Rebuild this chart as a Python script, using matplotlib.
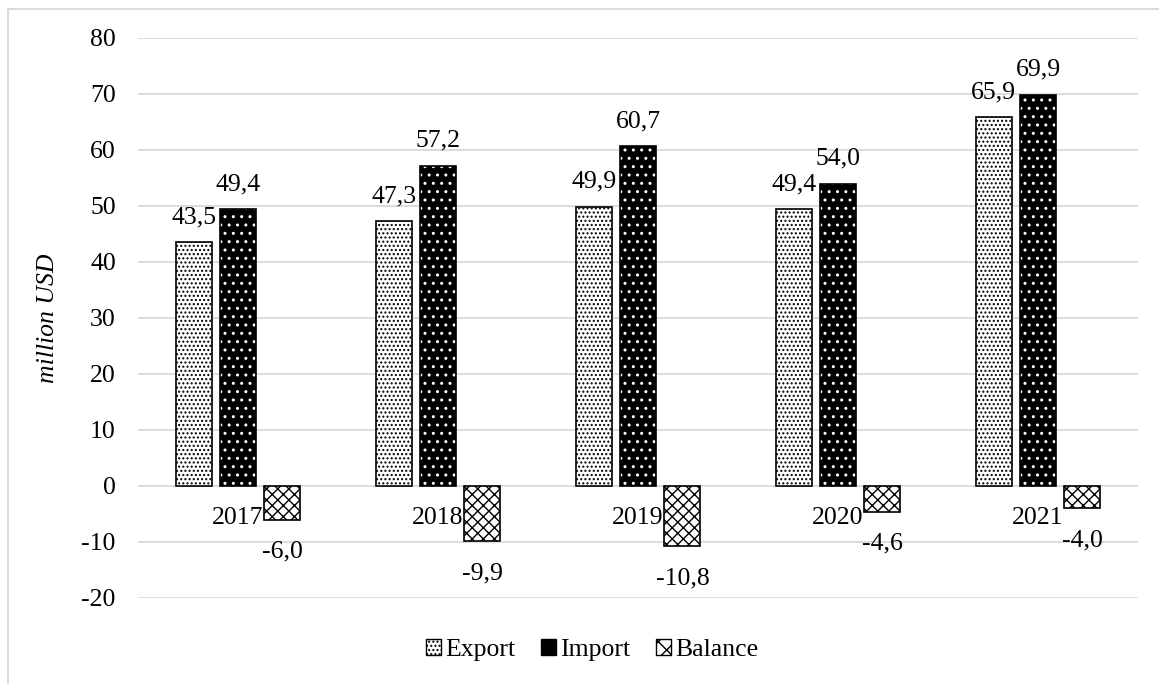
import matplotlib
matplotlib.use("Agg")
import matplotlib.pyplot as plt
from matplotlib.patches import Rectangle, Patch
import numpy as np

years = ["2017", "2018", "2019", "2020", "2021"]
export = [43.5, 47.3, 49.9, 49.4, 65.9]
imports = [49.4, 57.2, 60.7, 54.0, 69.9]
balance = [-6.0, -9.9, -10.8, -4.6, -4.0]
yticks = [-20, -10, 0, 10, 20, 30, 40, 50, 60, 70, 80]

plt.rcParams['font.family'] = ['Liberation Serif', 'DejaVu Serif']
plt.rcParams['hatch.linewidth'] = 1.0
FS = 18.5

fig = plt.figure(figsize=(11.59, 6.84), dpi=100)
W, H = 1159, 684
ax = fig.add_axes([138 / W, 1 - 598 / H, 1000 / W, 560 / H])

x = np.arange(len(years))
bw = 0.18
off = 0.222

def fmt(v):
    return f"{v:.1f}".replace(".", ",")

# Export: white with black dots
ax.bar(x - off, export, bw, facecolor="white", edgecolor="black", hatch="....", linewidth=0, zorder=3)
ax.bar(x - off, export, bw, fill=False, edgecolor="black", linewidth=1.2, zorder=4)
# Import: black with white dots
ax.bar(x, imports, bw, facecolor="black", edgecolor="white", hatch="..", linewidth=0, zorder=3)
ax.bar(x, imports, bw, fill=False, edgecolor="black", linewidth=1.2, zorder=4)
# Balance: diagonal crosshatch
ax.bar(x + off, balance, bw, facecolor="white", edgecolor="black", hatch="xxx", linewidth=0, zorder=3)
ax.bar(x + off, balance, bw, fill=False, edgecolor="black", linewidth=1.2, zorder=4)

for xi, v in zip(x - off, export):
    ax.annotate(fmt(v), (xi, v), xytext=(0, 10), textcoords="offset points",
                ha="center", va="bottom", fontsize=FS, zorder=5)
for xi, v in zip(x, imports):
    ax.annotate(fmt(v), (xi, v), xytext=(0, 10), textcoords="offset points",
                ha="center", va="bottom", fontsize=FS, zorder=5)
for xi, v in zip(x + off, balance):
    ax.annotate(fmt(v), (xi, v), xytext=(0, -15), textcoords="offset points",
                ha="center", va="top", fontsize=FS, zorder=5)

for xi, yr in zip(x, years):
    ax.annotate(yr, (xi, 0), xytext=(0, -15), textcoords="offset points",
                ha="center", va="top", fontsize=FS, zorder=6)

ax.set_xlim(-0.5, len(years) - 0.5)
ax.set_ylim(-20, 80)
ax.set_yticks(yticks)
ax.set_yticklabels([str(t) for t in yticks], fontsize=FS)
ax.tick_params(axis="y", length=0, pad=16)
ax.set_xticks([])
ax.yaxis.grid(True, color="#d9d9d9", linewidth=1.3, zorder=0)
ax.set_axisbelow(True)
for s in ax.spines.values():
    s.set_visible(False)
ax.set_ylabel("million USD", fontsize=FS, style="italic", labelpad=16)

handles = [
    Patch(facecolor="white", edgecolor="black", hatch="...."),
    Patch(facecolor="black", edgecolor="black", hatch=".."),
    Patch(facecolor="white", edgecolor="black", hatch="xx"),
]
fig.legend(handles, ["Export", "Import", "Balance"], loc="center",
           bbox_to_anchor=(592 / W, 1 - 650 / H), ncol=3, frameon=False,
           fontsize=FS, handlelength=0.6, handleheight=0.6,
           handletextpad=0.15, columnspacing=1.0)

# outer chart-area border
fig.patches.append(Rectangle((8 / W, -0.1), 1.2, 1 - 9 / H + 0.1, transform=fig.transFigure,
                             fill=False, edgecolor="#d9d9d9", linewidth=1.3))

fig.savefig("out.png", dpi=100)
